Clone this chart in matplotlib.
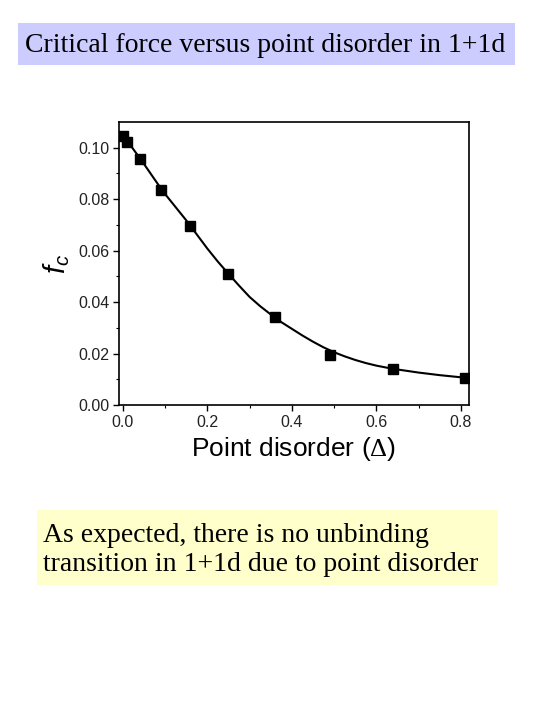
import matplotlib.pyplot as plt
from matplotlib.patches import Rectangle

# measured points (Delta, f_c)
delta = [0.0, 0.01, 0.04, 0.09, 0.16, 0.25, 0.36, 0.49, 0.64, 0.81]
fc = [0.1047, 0.1023, 0.0956, 0.0836, 0.0696, 0.0509, 0.0341, 0.0194, 0.0138, 0.0106]

# fitted curve
curve_x = [0.0, 0.01, 0.04, 0.05, 0.09, 0.10, 0.15, 0.20, 0.225, 0.25, 0.275, 0.30,
           0.325, 0.35, 0.375, 0.40, 0.425, 0.45, 0.475, 0.50, 0.525, 0.55, 0.575,
           0.60, 0.625, 0.65, 0.70, 0.75, 0.81]
curve_y = [0.1050, 0.1028, 0.0960, 0.0937, 0.0842, 0.0820, 0.0718, 0.0608, 0.0557, 0.0510,
           0.0464, 0.0420, 0.0384, 0.0352, 0.0322, 0.0296, 0.0270, 0.0246, 0.0224, 0.0205,
           0.0189, 0.0175, 0.0163, 0.0153, 0.0145, 0.0138, 0.0126, 0.0116, 0.0106]

xticks = [0.0, 0.2, 0.4, 0.6, 0.8]
yticks = [0.00, 0.02, 0.04, 0.06, 0.08, 0.10]

title = 'Critical force versus point disorder in 1+1d'
note = 'As expected, there is no unbinding\ntransition in 1+1d due to point disorder'

plt.rcParams['mathtext.fontset'] = 'custom'
plt.rcParams['mathtext.it'] = 'Liberation Sans:italic'
plt.rcParams['mathtext.rm'] = 'Liberation Serif'

W, H = 540, 720
fig = plt.figure(figsize=(5.4, 7.2), dpi=100)

def box(x0, y0, x1, y1, color):
    fig.patches.append(Rectangle((x0 / W, 1 - y1 / H), (x1 - x0) / W, (y1 - y0) / H,
                                 transform=fig.transFigure, facecolor=color,
                                 edgecolor='none', zorder=0))

box(18, 23, 515, 65, '#ccccff')
fig.text(25 / W, 1 - 46 / H, title, family='Liberation Serif', fontsize=20,
         va='center', ha='left')

box(37, 510, 498, 585, '#ffffcc')
fig.text(43 / W, 1 - 550 / H, note, family='Liberation Serif', fontsize=20,
         va='center', ha='left', linespacing=1.25)

ax = fig.add_axes([119 / W, 1 - 405 / H, 350 / W, 283 / H])
ax.plot(curve_x, curve_y, color='black', lw=1.5)
ax.plot(delta, fc, 's', color='black', ms=6.5)

ax.set_xlim(-0.009, 0.81 + 0.009)
ax.set_ylim(0, 0.11)
ax.set_xticks(xticks)
ax.set_yticks(yticks)
ax.set_xticklabels(['%.1f' % t for t in xticks])
ax.set_yticklabels(['%.2f' % t for t in yticks])
ax.set_xticks([0.1, 0.3, 0.5, 0.7], minor=True)
ax.set_yticks([0.01, 0.03, 0.05, 0.07, 0.09], minor=True)
ax.tick_params(which='both', direction='out', top=False, right=False)
ax.tick_params(which='major', length=4, width=1, labelsize=11.5, pad=3)
ax.tick_params(which='minor', length=2.5, width=0.8)
for lab in ax.get_xticklabels() + ax.get_yticklabels():
    lab.set_family('Liberation Sans')
    lab.set_color('#222222')
for s in ax.spines.values():
    s.set_linewidth(1.2)

ax.set_xlabel('Point disorder ($\\Delta$)', family='Liberation Sans', fontsize=19, labelpad=4)
ax.set_ylabel('$f_c$', fontsize=21, labelpad=4)

fig.savefig('out.png', dpi=100)
